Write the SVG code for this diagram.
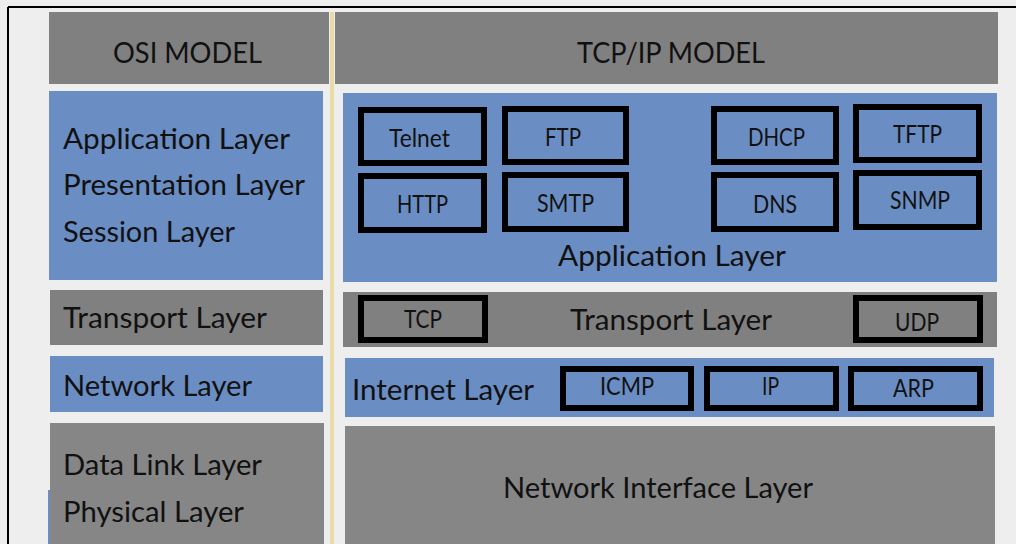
<svg xmlns="http://www.w3.org/2000/svg" width="1016" height="544" viewBox="0 0 1016 544">
  <style>
    .blue { fill: #6a8dc3; }
    .gray { fill: #808080; }
    .gray2 { fill: #868686; }
    .box { fill: none; stroke: #000; stroke-width: 6; }
    text { font-family: Lato, "Liberation Sans", Arial, sans-serif; fill: #111; }
    .big { font-size: 29px; }
    .sm { font-size: 25px; }
  </style>
  <rect x="0" y="0" width="1016" height="544" fill="#eeeeee"/>
  <g id="frame">
    <line x1="8" y1="7" x2="1016" y2="7" stroke="#000" stroke-width="2"/>
    <line x1="8" y1="7" x2="8" y2="544" stroke="#000" stroke-width="2"/>
    <rect x="330" y="12" width="4" height="532" fill="#e9dba6"/>
  </g>

  <g id="osi-header">
    <rect class="gray" x="49" y="12" width="280" height="72"/>
    <text class="big" x="113" y="63" textLength="149" lengthAdjust="spacingAndGlyphs">OSI MODEL</text>
  </g>
  <g id="osi-upper">
    <rect class="blue" x="49" y="91" width="274" height="189"/>
    <text class="big" x="63" y="149" textLength="227" lengthAdjust="spacingAndGlyphs">Application Layer</text>
    <text class="big" x="63" y="195" textLength="242" lengthAdjust="spacingAndGlyphs">Presentation Layer</text>
    <text class="big" x="63" y="242" textLength="172" lengthAdjust="spacingAndGlyphs">Session Layer</text>
  </g>
  <g id="osi-transport">
    <rect class="gray" x="50" y="290" width="273" height="55"/>
    <text class="big" x="63" y="328" textLength="204" lengthAdjust="spacingAndGlyphs">Transport Layer</text>
  </g>
  <g id="osi-network">
    <rect class="blue" x="50" y="356" width="273" height="56"/>
    <text class="big" x="63" y="396" textLength="189" lengthAdjust="spacingAndGlyphs">Network Layer</text>
  </g>
  <g id="osi-lower">
    <rect class="blue" x="48" y="490" width="4" height="54"/>
    <rect class="gray2" x="50" y="423" width="274" height="121"/>
    <text class="big" x="63" y="475" textLength="199" lengthAdjust="spacingAndGlyphs">Data Link Layer</text>
    <text class="big" x="63" y="522" textLength="181" lengthAdjust="spacingAndGlyphs">Physical Layer</text>
  </g>

  <g id="tcpip-header">
    <rect class="gray" x="335" y="12" width="663" height="72"/>
    <text class="big" x="577" y="63" textLength="188" lengthAdjust="spacingAndGlyphs">TCP/IP MODEL</text>
  </g>
  <g id="tcpip-application">
    <rect class="blue" x="343" y="93" width="654" height="189"/>
    <text class="big" x="558" y="266" textLength="228" lengthAdjust="spacingAndGlyphs">Application Layer</text>
  </g>
  <g id="telnet"><rect class="box" x="361" y="110" width="123" height="53"/><text class="sm" x="389" y="147" textLength="61" lengthAdjust="spacingAndGlyphs">Telnet</text></g>
  <g id="http"><rect class="box" x="361" y="176" width="123" height="54"/><text class="sm" x="397" y="213" textLength="51" lengthAdjust="spacingAndGlyphs">HTTP</text></g>
  <g id="ftp"><rect class="box" x="505" y="109" width="121" height="53"/><text class="sm" x="545" y="146" textLength="36" lengthAdjust="spacingAndGlyphs">FTP</text></g>
  <g id="smtp"><rect class="box" x="505" y="175" width="121" height="54"/><text class="sm" x="537" y="212" textLength="57" lengthAdjust="spacingAndGlyphs">SMTP</text></g>
  <g id="dhcp"><rect class="box" x="714" y="109" width="122" height="53"/><text class="sm" x="748" y="146" textLength="57" lengthAdjust="spacingAndGlyphs">DHCP</text></g>
  <g id="dns"><rect class="box" x="714" y="175" width="122" height="54"/><text class="sm" x="753" y="213" textLength="44" lengthAdjust="spacingAndGlyphs">DNS</text></g>
  <g id="tftp"><rect class="box" x="856" y="107" width="123" height="53"/><text class="sm" x="893" y="143" textLength="49" lengthAdjust="spacingAndGlyphs">TFTP</text></g>
  <g id="snmp"><rect class="box" x="856" y="173" width="123" height="54"/><text class="sm" x="890" y="209" textLength="60" lengthAdjust="spacingAndGlyphs">SNMP</text></g>

  <g id="tcpip-transport">
    <rect class="gray" x="343" y="292" width="654" height="55"/>
    <text class="big" x="570" y="330" textLength="202" lengthAdjust="spacingAndGlyphs">Transport Layer</text>
  </g>
  <g id="tcp"><rect class="box" x="361" y="298" width="124" height="42"/><text class="sm" x="404" y="328" textLength="38" lengthAdjust="spacingAndGlyphs">TCP</text></g>
  <g id="udp"><rect class="box" x="856" y="298" width="124" height="42"/><text class="sm" x="895" y="331" textLength="44" lengthAdjust="spacingAndGlyphs">UDP</text></g>

  <g id="tcpip-internet">
    <rect class="blue" x="345" y="358" width="649" height="59"/>
    <text class="big" x="352" y="400" textLength="182" lengthAdjust="spacingAndGlyphs">Internet Layer</text>
  </g>
  <g id="icmp"><rect class="box" x="563" y="369" width="128" height="39"/><text class="sm" x="600" y="395" textLength="54" lengthAdjust="spacingAndGlyphs">ICMP</text></g>
  <g id="ip"><rect class="box" x="707" y="369" width="129" height="39"/><text class="sm" x="762" y="395" textLength="17" lengthAdjust="spacingAndGlyphs">IP</text></g>
  <g id="arp"><rect class="box" x="851" y="369" width="129" height="39"/><text class="sm" x="893" y="397" textLength="41" lengthAdjust="spacingAndGlyphs">ARP</text></g>

  <g id="tcpip-network-interface">
    <rect class="gray2" x="345" y="426" width="650" height="118"/>
    <text class="big" x="503" y="498" textLength="310" lengthAdjust="spacingAndGlyphs">Network Interface Layer</text>
  </g>
</svg>
